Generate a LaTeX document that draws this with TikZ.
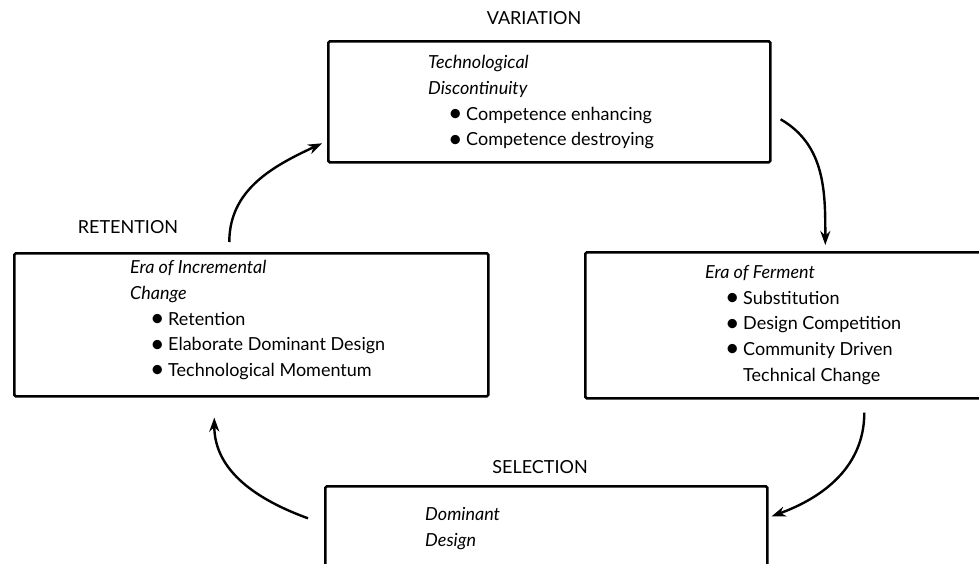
\documentclass[tikz,border=0pt]{standalone}
\usepackage{fontspec}
\setmainfont{Lato}
\usetikzlibrary{arrows.meta,positioning}

\tikzset{
  stagebox/.style={draw,line width=2.6pt,rounded corners=1.5pt,anchor=north west,inner sep=0pt},
  stagetext/.style={anchor=north west,inner sep=0pt,align=left,font=\fontsize{18}{25.8}\selectfont},
  phase/.style={inner sep=0pt,font=\fontsize{18}{20}\selectfont},
  cycle/.style={->,line width=2.4pt},
}
\newcommand{\itm}[1]{\hspace*{20pt}\makebox[18pt][l]{\raisebox{-1.2pt}{\fontsize{25}{25}\selectfont\textbullet}}#1}

\begin{document}
\begin{tikzpicture}[x=1pt,y=-1pt,>={Stealth[length=14pt,width=10pt]}]
      \useasboundingbox (0,0) rectangle (979,563);

      \node[stagebox,minimum width=442pt,minimum height=121pt] (var) at (327,40) {};
      \node[stagebox,minimum width=430pt,minimum height=146pt] (fer) at (584,251) {};
      \node[stagebox,minimum width=442pt,minimum height=120pt] (sel) at (324,485) {};
      \node[stagebox,minimum width=474pt,minimum height=143pt] (ret) at (13,252) {};

      \node[phase] (variation) at (534,18) {VARIATION};
      \node[phase] (retention) at (128,227) {RETENTION};
      \node[phase] (selection) at (540,467) {SELECTION};

      \node[stagetext] (vartext) at (428,55)
        {\textit{Technological}\\ \textit{Discontinuity}\\
         \itm{Competence enhancing}\\ \itm{Competence destroying}};
      \node[stagetext] (rettext) at (130,260)
        {\textit{Era of Incremental}\\ \textit{Change}\\ \itm{Retention}\\
         \itm{Elaborate Dominant Design}\\ \itm{Technological Momentum}};
      \node[stagetext] (fertext) at (705,265)
        {\textit{Era of Ferment}\\ \itm{Substitution}\\ \itm{Design Competition}\\
         \itm{Community Driven}\\ \hspace*{38pt}Technical Change};
      \node[stagetext] (seltext) at (425,507)
        {\textit{Dominant}\\ \textit{Design}};

      \path[cycle]
      ([xshift=-22pt,yshift=10pt]ret.north) edge [out=90,in=205] ([xshift=-5pt,yshift=-41.5pt]var.west)
      ([xshift=9pt,yshift=-17.5pt]var.east) edge [out=-30,in=90] ([xshift=25pt,yshift=6pt]fer.north)
      ([xshift=64pt,yshift=-13pt]fer.south) edge [out=-90,in=20] ([xshift=3pt,yshift=30pt]sel.east)
      ([xshift=-16pt,yshift=28pt]sel.west) edge [out=160,in=-90] ([xshift=-37pt,yshift=-20pt]ret.south)
      ;
\end{tikzpicture}
\end{document}
